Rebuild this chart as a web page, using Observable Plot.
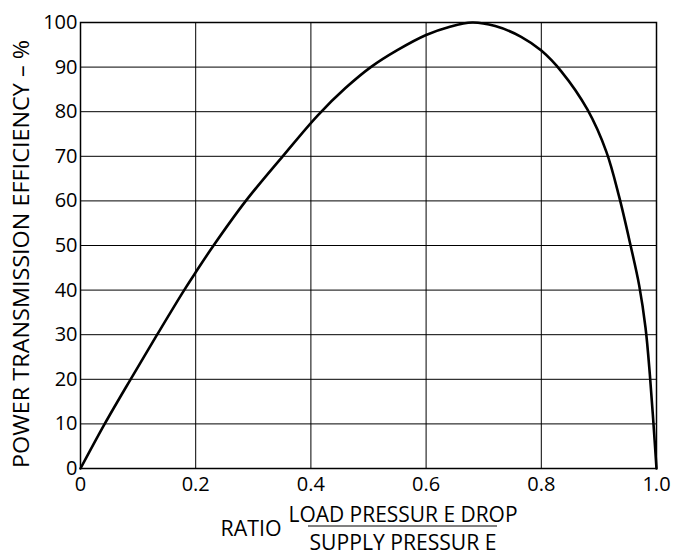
<!DOCTYPE html>
<html>
<head>
<meta charset="utf-8">
<script src="https://cdn.jsdelivr.net/npm/d3@7"></script>
<script src="https://cdn.jsdelivr.net/npm/@observablehq/plot@0.6"></script>
<style>
  html, body { margin: 0; padding: 0; background: #fff; }
  svg { display: block; }
</style>
</head>
<body>
<div id="chart"></div>
<script>
// Values
const ratio = [0, 0.042, 0.087, 0.133, 0.18, 0.2, 0.231, 0.287, 0.351, 0.412, 0.46, 0.504, 0.55, 0.6, 0.64, 0.68, 0.72, 0.765, 0.8, 0.835, 0.88, 0.913, 0.935, 0.955, 0.97, 0.981, 0.9885, 0.9945, 1.0];
const efficiency = [0, 10, 20, 30, 40, 44, 50, 60, 70, 79.2, 85.3, 90, 93.8, 97.2, 99.0, 100, 99.2, 96.8, 93.7, 89, 80.5, 71, 61, 50, 41, 31.5, 21, 10.5, 0];
const xTicks = [0, 0.2, 0.4, 0.6, 0.8, 1.0];
const xTickLabels = ["0", "0.2", "0.4", "0.6", "0.8", "1.0"];
const yTicks = [0, 10, 20, 30, 40, 50, 60, 70, 80, 90, 100];
const yAxisLabel = "POWER TRANSMISSION EFFICIENCY – %";
const xLabelPrefix = "RATIO";
const xLabelNumerator = "LOAD PRESSUR E DROP";
const xLabelDenominator = "SUPPLY PRESSUR E";

const data = ratio.map((r, i) => ({ratio: r, efficiency: efficiency[i]}));
const FONT = "'Open Sans', sans-serif";

const svg = Plot.plot({
  width: 676,
  height: 555,
  marginLeft: 80,
  marginTop: 22,
  marginRight: 20,
  marginBottom: 87,
  style: {fontFamily: FONT, fontSize: "20px", color: "#000", background: "#fff", overflow: "visible"},
  x: {domain: [0, 1], ticks: xTicks, tickFormat: (d) => xTickLabels[xTicks.indexOf(d)], label: null, tickSize: 0, tickPadding: 8},
  y: {domain: [0, 100], ticks: yTicks, label: null, tickSize: 0, tickPadding: 3},
  marks: [
    Plot.gridX(xTicks, {stroke: "#000", strokeOpacity: 1, strokeWidth: 1}),
    Plot.gridY(yTicks, {stroke: "#000", strokeOpacity: 1, strokeWidth: 1}),
    Plot.frame({stroke: "#000", strokeWidth: 1.5}),
    Plot.line(data, {x: "ratio", y: "efficiency", curve: "catmull-rom", stroke: "#000", strokeWidth: 2.6})
  ]
});

const s = d3.select(svg);
function label(txt, x, y, len, rotate) {
  const t = s.append("text")
    .attr("text-anchor", "middle")
    .attr("font-family", FONT)
    .attr("font-size", 22)
    .attr("fill", "#000")
    .attr("textLength", len)
    .attr("lengthAdjust", "spacingAndGlyphs")
    .text(txt);
  if (rotate) t.attr("transform", `translate(${x},${y}) rotate(-90)`);
  else t.attr("x", x).attr("y", y);
  return t;
}
label(yAxisLabel, 29, 254, 428, true);
label(xLabelPrefix, 251, 536, 61);
label(xLabelNumerator, 403, 522, 229);
s.append("line")
  .attr("x1", 308).attr("x2", 497).attr("y1", 526).attr("y2", 526)
  .attr("stroke", "#000").attr("stroke-width", 1.2);
label(xLabelDenominator, 403, 550, 187);

document.getElementById("chart").append(svg);
</script>
</body>
</html>
